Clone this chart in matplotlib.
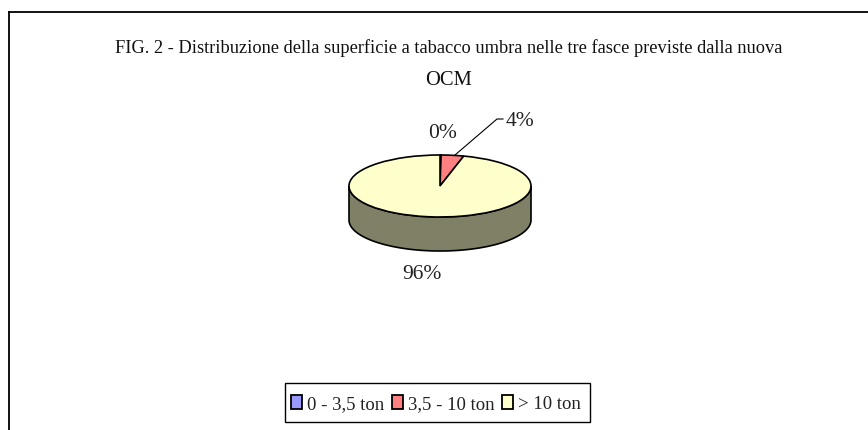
#---importing the libraries---
import numpy as np
import matplotlib
matplotlib.use('Agg')
import matplotlib.pyplot as plt
from matplotlib.patches import Polygon, Rectangle

#---chart data---
title_lines = ['FIG. 2 - Distribuzione della superficie a tabacco umbra nelle tre fasce previste dalla nuova', 'OCM']
categories = ['0 - 3,5 ton', '3,5 - 10 ton', '> 10 ton']
shares = [0.2, 4, 95.8]
share_labels = ['0%', '4%', '96%']
colors = ['#9999ff', '#ff8080', '#ffffcc']
side_color = '#808066'

W, H = 868, 430
plt.rcParams['font.family'] = ['Liberation Serif', 'DejaVu Serif']
fig = plt.figure(figsize=(W / 100, H / 100), dpi=100)

# background axes in pixel coordinates, y going down like the picture
bg = fig.add_axes([0, 0, 1, 1])
bg.set_xlim(0, W)
bg.set_ylim(H, 0)
bg.axis('off')

# chart frame runs off the right and bottom of the image
bg.plot([9, 9], [H + 5, 11.7], color='black', lw=1.3)
bg.plot([9, W + 5], [11.7, 11.7], color='black', lw=1.3)

# title
bg.text(449, 52.7, title_lines[0], ha='center', va='baseline', fontsize=13.2, color='#111111')
bg.text(448.5, 85, title_lines[1], ha='center', va='baseline', fontsize=14.8, color='#111111')

# pie axes: top ellipse only, squashed by the axes shape
cx, cy, rx, ry, depth = 440, 186, 91, 31, 34
ax = fig.add_axes([(cx - rx) / W, 1 - (cy + ry) / H, 2 * rx / W, 2 * ry / H])
ax.pie(shares, colors=colors, startangle=90, counterclock=False, radius=1,
       wedgeprops={'edgecolor': 'black', 'linewidth': 1.2, 'clip_on': False})
ax.set_aspect('auto')
ax.set_xlim(-1, 1)
ax.set_ylim(-1, 1)

# side wall of the cylinder
t = np.linspace(np.pi, 2 * np.pi, 100)
d = depth / ry
side = np.column_stack([np.r_[np.cos(t), np.cos(t[::-1])], np.r_[np.sin(t), np.sin(t[::-1]) - d]])
ax.add_patch(Polygon(side, closed=True, facecolor=side_color, edgecolor='black', lw=1.2,
                     clip_on=False, zorder=0))

# value labels and leader line
bg.text(442.5, 137.7, share_labels[0], ha='center', va='baseline', fontsize=15.5, color='#222222')
bg.text(519.5, 126, share_labels[1], ha='center', va='baseline', fontsize=15.5, color='#222222')
bg.text(422, 279, share_labels[2], ha='center', va='baseline', fontsize=15.5, color='#222222')
bg.plot([455, 497, 503], [155, 119, 119], color='black', lw=0.8)

# legend
bg.add_patch(Rectangle((284.5, 383), 305, 39, facecolor='white', edgecolor='black', lw=1.0))
swatch_x = [290.5, 392, 501.5]
text_x = [307, 408, 518]
for i in range(len(categories)):
    bg.add_patch(Rectangle((swatch_x[i], 394.5), 11, 14.5, facecolor=colors[i], edgecolor='black', lw=1.3))
    bg.text(text_x[i], 409, categories[i], ha='left', va='baseline', fontsize=13.5, color='#222222')

fig.savefig('out.png', dpi=100)
